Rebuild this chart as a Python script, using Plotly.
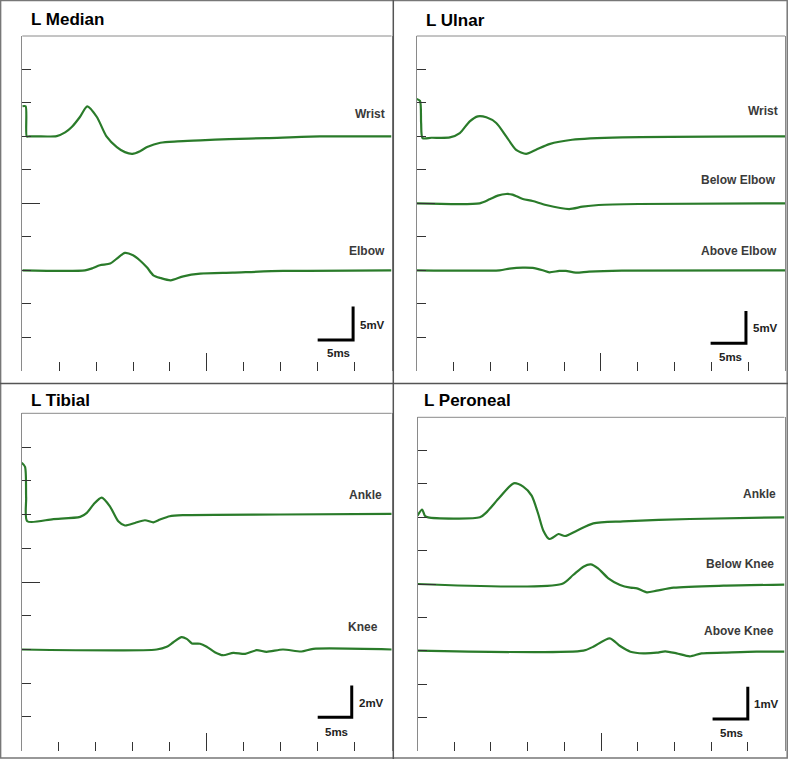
import plotly.graph_objects as go

# ---------------- data: time (ms) and amplitude (mV, relative to trace baseline) ----------------
median_wrist_t = [0, 0.45, 0.6, 0.9, 2.0, 4.66, 5.8, 6.7, 7.8, 8.8, 10.1, 11.4, 12.8, 13.9, 14.9, 15.95, 16.9, 18.7, 21.0, 24.1, 28.0, 33.1, 40.3, 50]
median_wrist_mv = [4.5, 4.5, 0.0, 0.0, 0.0, 0.05, 0.6, 1.4, 2.9, 4.5, 2.9, 0.0, -1.6, -2.35, -2.6, -2.2, -1.6, -0.95, -0.75, -0.6, -0.4, -0.25, 0.0, 0.0]

median_elbow_t = [0, 8.5, 9.5, 10.5, 11.9, 12.8, 13.9, 15.0, 15.9, 16.9, 17.75, 18.7, 20.1, 21.8, 24.1, 28.5, 35.3, 50]
median_elbow_mv = [0, 0, 0.3, 0.75, 1.0, 1.75, 2.6, 2.25, 1.5, 0.4, -0.75, -1.15, -1.5, -0.9, -0.5, -0.35, -0.1, 0]

ulnar_wrist_t = [0, 0.45, 0.6, 0.8, 2.0, 4.5, 5.85, 7.2, 8.3, 9.45, 10.8, 12.15, 13.5, 14.85, 16.2, 18.0, 21.1, 27.9, 50]
ulnar_wrist_mv = [5.6, 5.3, 2.0, -0.25, -0.2, -0.15, 0.5, 2.25, 3.0, 2.85, 2.0, 0.0, -2.0, -2.6, -2.0, -1.15, -0.5, -0.15, 0.0]

ulnar_below_t = [0, 8.55, 9.9, 11.0, 12.15, 13.0, 14.4, 15.75, 17.55, 20.7, 22.5, 24.7, 30.1, 50]
ulnar_below_mv = [0, 0, 0.6, 1.15, 1.4, 1.3, 0.65, 0.35, -0.25, -0.85, -0.5, -0.25, -0.1, 0]

ulnar_above_t = [0, 11.25, 12.6, 14.4, 15.75, 17.1, 18.0, 19.35, 20.25, 21.6, 23.4, 27.85, 50]
ulnar_above_mv = [0, 0, 0.25, 0.4, 0.35, 0.0, -0.3, -0.1, -0.1, -0.35, -0.2, -0.05, 0]

tibial_ankle_t = [0, 0.45, 0.6, 0.75, 4.27, 7.9, 8.8, 9.7, 10.8, 11.9, 13.05, 13.95, 15.3, 16.65, 17.8, 18.7, 20.0, 21.8, 35.0, 50]
tibial_ankle_mv = [3.07, 2.83, 1.0, -0.4, -0.27, -0.14, 0.1, 0.6, 1.0, 0.5, -0.4, -0.65, -0.5, -0.34, -0.46, -0.3, -0.1, -0.04, 0.0, 0.04]

tibial_knee_t = [0, 18.24, 19.6, 20.5, 21.6, 22.3, 23.0, 24.1, 25.0, 26.1, 27.2, 28.6, 30.2, 31.75, 33.1, 35.3, 37.8, 39.4, 50]
tibial_knee_mv = [0, 0, 0.16, 0.43, 0.73, 0.63, 0.36, 0.34, 0.16, -0.16, -0.34, -0.2, -0.26, -0.04, -0.14, 0.0, -0.12, 0.04, 0]

peroneal_ankle_t = [0, 0.63, 1.0, 1.45, 8.5, 9.4, 11.2, 13.1, 14.4, 15.55, 16.45, 17.15, 17.95, 18.5, 19.2, 20.1, 21.7, 23.95, 28.0, 37.1, 50]
peroneal_ankle_mv = [0.05, 0.23, 0.05, 0.0, 0.0, 0.15, 0.6, 1.02, 0.92, 0.65, 0.1, -0.4, -0.65, -0.6, -0.5, -0.56, -0.4, -0.18, -0.12, -0.05, 0.0]

peroneal_below_t = [0, 19.65, 21.2, 22.6, 23.6, 24.6, 26.0, 27.6, 29.0, 29.9, 31.25, 32.6, 34.9, 41.7, 50]
peroneal_below_mv = [0, 0, 0.27, 0.52, 0.59, 0.47, 0.17, -0.03, -0.11, -0.13, -0.25, -0.2, -0.11, -0.05, -0.02]

peroneal_above_t = [0, 22.6, 23.95, 26.2, 27.6, 29.0, 30.8, 32.6, 33.75, 35.3, 37.1, 38.7, 41.7, 46.2, 50]
peroneal_above_mv = [0, 0, 0.12, 0.37, 0.14, -0.03, -0.08, -0.06, -0.02, -0.08, -0.17, -0.08, -0.06, -0.03, -0.03]

panel_titles = ["L Median", "L Ulnar", "L Tibial", "L Peroneal"]
mv_per_div = [5, 5, 2, 1]          # vertical sensitivity (mV / division)
ms_per_div = 5                      # sweep speed (ms / division)
scale_labels = ["5mV", "5mV", "2mV", "1mV"]

# traces per panel: (label, t, mV, baseline division)
panel_traces = [
    [("Wrist", median_wrist_t, median_wrist_mv, 7), ("Elbow", median_elbow_t, median_elbow_mv, 3)],
    [("Wrist", ulnar_wrist_t, ulnar_wrist_mv, 7), ("Below Elbow", ulnar_below_t, ulnar_below_mv, 5),
     ("Above Elbow", ulnar_above_t, ulnar_above_mv, 3)],
    [("Ankle", tibial_ankle_t, tibial_ankle_mv, 7), ("Knee", tibial_knee_t, tibial_knee_mv, 3)],
    [("Ankle", peroneal_ankle_t, peroneal_ankle_mv, 7), ("Below Knee", peroneal_below_t, peroneal_below_mv, 5),
     ("Above Knee", peroneal_above_t, peroneal_above_mv, 3)],
]

# ---------------- layout geometry (pixels) ----------------
W, H = 788, 759
boxes = [(22.3, 391.5, 36.0, 370.7), (416.7, 785.0, 36.0, 370.7),
         (21.7, 391.7, 413.3, 750.7), (417.5, 784.5, 417.3, 750.7)]
title_pos = [(29.3, 19.5), (424.3, 20.3), (29.3, 400.0), (421.7, 400.7)]
label_pos = [  # (x ms of right edge, y in divisions)
    [(49.35, 7.67), (49.35, 3.59)],
    [(49.35, 7.77), (49.0, 5.7), (49.2, 3.58)],
    [(48.95, 7.58), (48.4, 3.68)],
    [(49.1, 7.69), (48.9, 5.6), (48.9, 3.6)],
]
scale_bar = [  # x0 ms, x1 ms, y0 div, y1 div
    (40.0, 44.8, 0.92, 1.92), (39.9, 44.7, 0.82, 1.78),
    (40.0, 44.6, 0.99, 1.93), (40.2, 45.0, 0.95, 1.92)]
scale_mv_lbl = [(45.5, 1.37), (45.4, 1.28), (45.35, 1.40), (45.55, 1.40)]
scale_ms_lbl = [(42.8, 0.52), (42.55, 0.42), (42.5, 0.56), (42.76, 0.54)]

FONT = "Liberation Sans, Arial, sans-serif"
GREEN = "#2a7b2a"
FRAME = "#8a8a8a"
TICK = "#333333"

fig = go.Figure()
layout = dict(width=W, height=H, margin=dict(l=0, r=0, t=0, b=0), autosize=False,
              paper_bgcolor="white", plot_bgcolor="white", showlegend=False)
shapes = []
annotations = []

for i in range(4):
    n = i + 1
    xa = "xaxis" if n == 1 else f"xaxis{n}"
    ya = "yaxis" if n == 1 else f"yaxis{n}"
    xr = "x" if n == 1 else f"x{n}"
    yr = "y" if n == 1 else f"y{n}"
    x0p, x1p, y0p, y1p = boxes[i]
    d = mv_per_div[i]
    xmax = 10 * ms_per_div
    ymax = 10 * d
    minor_x = [ms_per_div * k for k in range(1, 10) if k != 5]
    minor_y = [d * k for k in range(1, 10) if k != 5]
    layout[xa] = dict(domain=[x0p / W, x1p / W], range=[0, xmax], anchor=yr,
                      showgrid=False, zeroline=False, showline=False, showticklabels=False,
                      tickmode="array", tickvals=minor_x, ticks="inside", ticklen=9,
                      tickwidth=1, tickcolor=TICK,
                      minor=dict(tickmode="array", tickvals=[5 * ms_per_div], ticks="inside",
                                 ticklen=18, tickwidth=1, tickcolor=TICK))
    layout[ya] = dict(domain=[1 - y1p / H, 1 - y0p / H], range=[0, ymax], anchor=xr,
                      showgrid=False, zeroline=False, showline=True, mirror=True,
                      linecolor=FRAME, linewidth=1, showticklabels=False,
                      tickmode="array", tickvals=minor_y, ticks="inside", ticklen=9,
                      tickwidth=1, tickcolor=TICK,
                      minor=dict(tickmode="array", tickvals=[5 * d], ticks="inside",
                                 ticklen=18, tickwidth=1, tickcolor=TICK))
    # top frame line
    shapes.append(dict(type="line", xref=f"{xr} domain", yref=f"{yr} domain",
                       x0=0, x1=1, y0=1, y1=1, line=dict(color=FRAME, width=1)))

    for j, (lbl, t, mv, base) in enumerate(panel_traces[i]):
        fig.add_trace(go.Scatter(x=t, y=[v + base * d for v in mv], mode="lines",
                                 xaxis=xr, yaxis=yr, hoverinfo="skip",
                                 line=dict(color=GREEN, width=2.2, shape="spline", smoothing=0.7)))
        lx, ly = label_pos[i][j]
        annotations.append(dict(text=lbl, x=lx, y=ly * d, xref=xr, yref=yr,
                                xanchor="right", yanchor="middle", showarrow=False,
                                font=dict(family=FONT, size=12, color="#3a3a3a", weight="bold")))

    # scale bar (L shape)
    bx0, bx1, by0, by1 = scale_bar[i]
    shapes.append(dict(type="path", xref=xr, yref=yr,
                       path=f"M {bx0},{by0 * d} L {bx1},{by0 * d} L {bx1},{by1 * d}",
                       line=dict(color="black", width=3)))
    mx, my = scale_mv_lbl[i]
    annotations.append(dict(text=scale_labels[i], x=mx, y=my * d, xref=xr, yref=yr,
                            xanchor="left", yanchor="middle", showarrow=False,
                            font=dict(family=FONT, size=11.5, color="#222222", weight="bold")))
    sx, sy = scale_ms_lbl[i]
    annotations.append(dict(text=f"{ms_per_div}ms", x=sx, y=sy * d, xref=xr, yref=yr,
                            xanchor="center", yanchor="middle", showarrow=False,
                            font=dict(family=FONT, size=11.5, color="#222222", weight="bold")))

    tx, ty = title_pos[i]
    annotations.append(dict(text=panel_titles[i], x=tx / W, y=1 - ty / H, xref="paper", yref="paper",
                            xanchor="left", yanchor="middle", showarrow=False,
                            font=dict(family=FONT, size=17, color="black", weight="bold")))

# outer border and dividers
shapes.append(dict(type="rect", xref="paper", yref="paper", x0=0.6 / W, x1=787.2 / W,
                   y0=1 - 758.0 / H, y1=1 - 0.6 / H, line=dict(color="#777777", width=1.5)))
shapes.append(dict(type="line", xref="paper", yref="paper", x0=393.3 / W, x1=393.3 / W,
                   y0=0, y1=1, line=dict(color="#555555", width=1.5)))
shapes.append(dict(type="line", xref="paper", yref="paper", x0=0, x1=1,
                   y0=1 - 383.5 / H, y1=1 - 383.5 / H, line=dict(color="#555555", width=1.5)))

layout["shapes"] = shapes
layout["annotations"] = annotations
fig.update_layout(**layout)
fig.write_html("out.html", config={"displayModeBar": False},
               post_script="document.body.style.margin='0';document.body.style.overflow='hidden';")
